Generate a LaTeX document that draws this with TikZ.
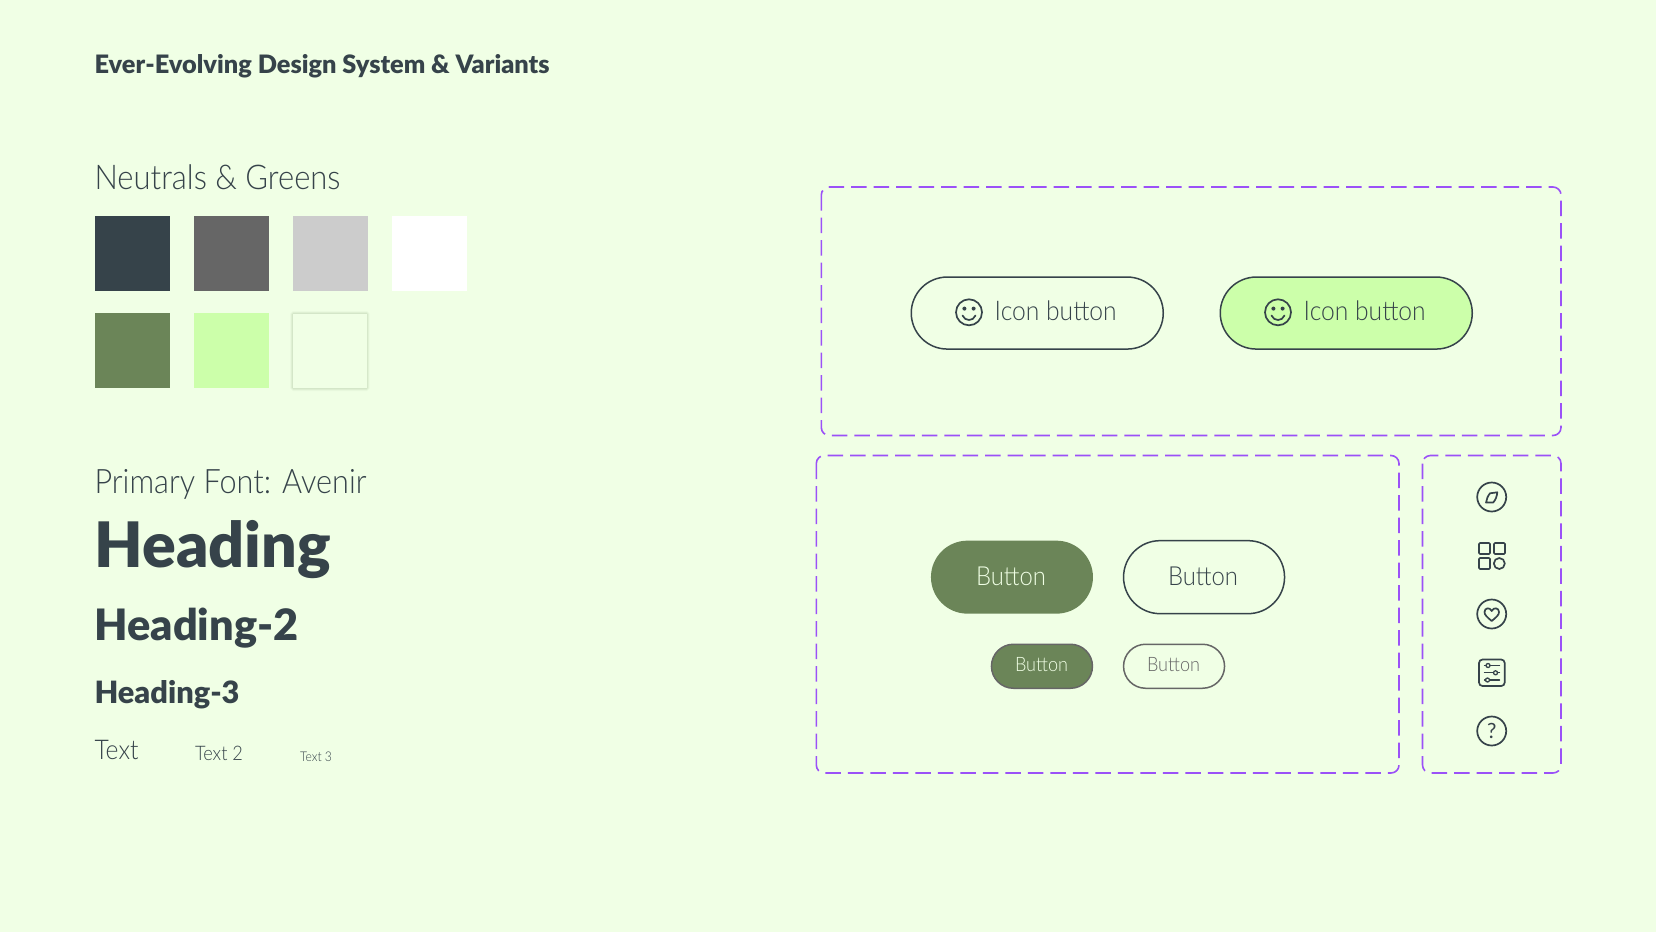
\documentclass[tikz,border=0pt]{standalone}
\usepackage{fontspec}
\usepackage{graphicx}
\setmainfont{Lato}
\newfontfamily\lightf{Lato Light}
\newfontfamily\heavyf{Lato Black}
\definecolor{bgc}{HTML}{F0FFE5}
\definecolor{inkc}{HTML}{36434A}
\definecolor{greyc}{HTML}{666666}
\definecolor{lightc}{HTML}{CCCCCC}
\definecolor{greenc}{HTML}{6B8558}
\definecolor{limec}{HTML}{CCFFAA}
\definecolor{purplec}{HTML}{9B51F7}
\newcommand{\fitw}[2]{\resizebox{#1pt}{!}{#2}}
\newcommand{\fith}[2]{\scalebox{1}[1.1]{\resizebox{#1pt}{!}{#2}}}
\tikzset{
  txt/.style={anchor=base west,inner sep=0pt,outer sep=0pt,text=inkc},
  ctr/.style={anchor=center,inner sep=0pt,outer sep=0pt},
  swatch/.style={rectangle,draw=none,inner sep=0pt,minimum size=75pt,anchor=north west},
  frame/.style={draw=purplec,line width=1.6pt,rounded corners=8pt,dash pattern=on 15.5pt off 7pt},
  pill/.style={rectangle,anchor=north west,inner sep=0pt,line width=1.5pt,rounded corners=#1},
  icon/.style={draw=inkc,line width=1.7pt,line cap=round,line join=round},
}
\begin{document}
\begin{tikzpicture}[x=1pt,y=-1pt]
\useasboundingbox (0,0) rectangle (1656,932);
\fill[bgc] (0,0) rectangle (1656,932);
% titles
\node[txt] (title) at (94.5,73) {\fitw{455}{\heavyf Ever-Evolving Design System \& Variants}};
\node[txt] (neutrals) at (94.5,189) {\fith{246}{\lightf Neutrals \& Greens}};
\node[txt] (primary) at (94.5,493.5) {\fith{272}{\lightf Primary Font: Avenir}};
\node[txt] (h1) at (94.5,567.5) {\fitw{236}{\heavyf Heading}};
\node[txt] (h2) at (94.5,640) {\fitw{204}{\heavyf Heading-2}};
\node[txt] (h3) at (94.5,703) {\fitw{145}{\heavyf Heading-3}};
\node[txt] (t1) at (94.5,759) {\fith{44}{\lightf Text}};
\node[txt] (t2) at (195,760.5) {\fith{48}{\lightf Text 2}};
\node[txt] (t3) at (300,761) {\fith{32}{\lightf Text 3}};
% swatches
\node[swatch,fill=inkc] (s1) at (94.3,215.7) {};
\node[swatch,fill=greyc] (s2) at (193.3,215.7) {};
\node[swatch,fill=lightc] (s3) at (292.5,215.7) {};
\node[swatch,fill=white] (s4) at (391.5,215.7) {};
\node[swatch,fill=greenc] (s5) at (94.3,313) {};
\node[swatch,fill=limec] (s6) at (193.3,313) {};
\foreach \w/\o in {5/0.025,4/0.03,3/0.04,2/0.05,1/0.06}
  \draw[line width=\w pt,draw=greenc,opacity=\o,rounded corners=1pt] (292.7,313.5) rectangle (367.2,388.5);
\node[swatch,fill=bgc,minimum size=74.5pt] (s7) at (292.7,313.5) {};
% frames
\draw[frame] (821.3,187) rectangle (1561,435.5);
\draw[frame] (816.3,455.5) rectangle (1399,773);
\draw[frame] (1422.5,455.5) rectangle (1561,773);
% icon buttons
\node[pill=36pt,draw=inkc,minimum width=252pt,minimum height=72pt] (ib1) at (910.5,276.3) {};
\node[pill=36pt,draw=inkc,fill=limec,minimum width=252pt,minimum height=72pt] (ib2) at (1219.5,276.3) {};
\node[txt] (ibt1) at (994.7,320.8) {\fith{122}{\lightf Icon button}};
\node[txt] (ibt2) at (1303.7,320.8) {\fith{122}{\lightf Icon button}};
\foreach \cx in {969,1278}{
  \draw[icon] (\cx,312.3) circle (13);
  \fill[inkc] (\cx-4.6,308.6) circle (2) (\cx+4.6,308.6) circle (2);
  \draw[icon] (\cx-6.5,315.5) .. controls (\cx-4,321.5) and (\cx+4,321.5) .. (\cx+6.5,315.5);
}
% buttons
\node[pill=36.5pt,fill=greenc,minimum width=162pt,minimum height=73pt] (b1) at (930.2,539.9) {};
\node[ctr,text=bgc] (b1t) at (1011,576.2) {\fith{70}{\lightf Button}};
\node[pill=36.5pt,draw=inkc,minimum width=161pt,minimum height=73pt] (b2) at (1122.8,539.9) {};
\node[ctr,text=inkc] (b2t) at (1203,576.2) {\fith{70}{\lightf Button}};
\node[pill=22pt,draw=greyc,fill=greenc,minimum width=101pt,minimum height=44pt] (b3) at (990.7,643.5) {};
\node[ctr,text=bgc] (b3t) at (1041.5,664.8) {\fith{53}{\lightf Button}};
\node[pill=22pt,draw=greyc,minimum width=101pt,minimum height=44pt] (b4) at (1122.8,643.5) {};
\node[ctr,text=greyc] (b4t) at (1173.5,664.8) {\fith{53}{\lightf Button}};
% icons column
\draw[icon] (1491.7,497) circle (14.5);
\draw[icon] (1490,493.3) -- (1497.3,492.3) .. controls (1497,496) and (1495.5,500) .. (1493.3,502.4) -- (1486,502.6) .. controls (1486.5,499) and (1488,495.5) .. (1490,493.3) -- cycle;
\draw[icon,rounded corners=1pt] (1479,543) rectangle (1490,554);
\draw[icon,rounded corners=1pt] (1494,543) rectangle (1505,554);
\draw[icon,rounded corners=1pt] (1479,558) rectangle (1490,569);
\draw[icon] (1499.3,563.5) circle (5.5);
\draw[icon] (1491.7,621) .. controls (1487,617) and (1484.5,615) .. (1484.5,612) .. controls (1484.5,607.5) and (1490,607) .. (1491.7,611) .. controls (1493.4,607) and (1499,607.5) .. (1499,612) .. controls (1499,615) and (1496.4,617) .. (1491.7,621) -- cycle;
\draw[icon] (1491.7,614) circle (14.5);
\draw[icon,rounded corners=3.5pt] (1479,659.5) rectangle (1504.7,686);
\draw[icon,line width=1.3pt] (1484.5,665.5) -- (1499.5,665.5) (1484.5,672.8) -- (1499.5,672.8) (1484.5,680) -- (1499.5,680);
\draw[icon,line width=1.3pt,fill=bgc] (1488,665.5) circle (2) (1495.5,672.8) circle (2) (1487.5,680) circle (2);
\draw[icon] (1491.7,731) circle (14.5);
\node[ctr,text=inkc] (qm) at (1491.7,731) {\fontsize{21}{21}\selectfont ?};
\end{tikzpicture}
\end{document}
